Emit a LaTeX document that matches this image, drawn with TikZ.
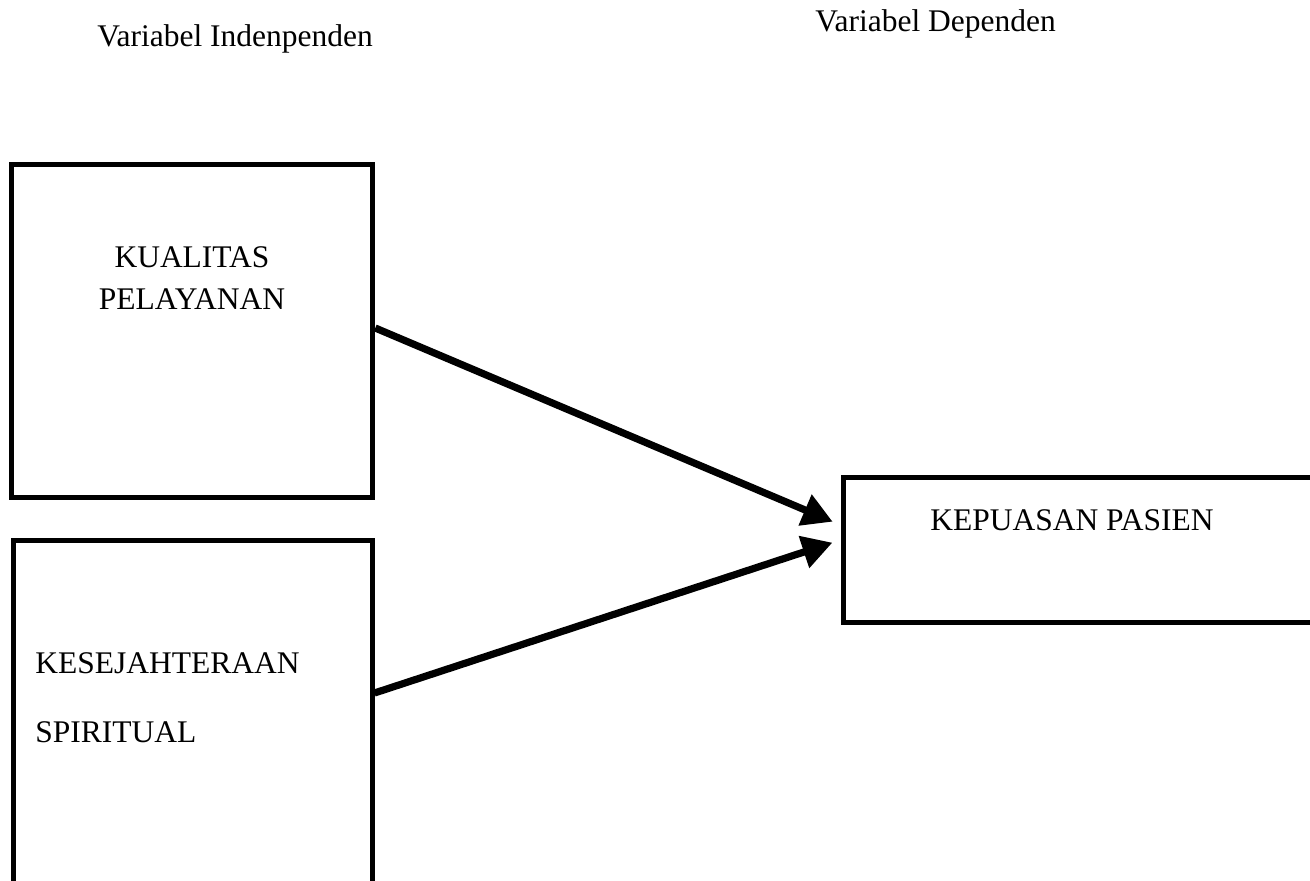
\documentclass[tikz,border=0pt]{standalone}
\usepackage{fontspec}
\setmainfont{Liberation Serif}
\usetikzlibrary{arrows.meta,positioning,calc}
\tikzset{
  varbox/.style={draw,line width=2.5pt,rectangle,inner sep=0pt},
  vartext/.style={font=\fontsize{15.75}{21}\selectfont,inner sep=0pt},
  link/.style={line width=3.6pt,-{Triangle[length=15pt,width=16pt]},shorten >=4.25pt}
}
\begin{document}
\begin{tikzpicture}[x=0.5pt,y=-0.5pt]
        \useasboundingbox (0,0) rectangle (1310,881);
        % headings
        \node[vartext,anchor=base west] (indep) at (97,47) {Variabel Indenpenden};
        \node[vartext,anchor=base west] (dep) at (815,32) {Variabel Dependen};
        % boxes
        \node[varbox,minimum width=180.75pt,minimum height=166pt] (kualitas) at (192,331) {};
        \node[varbox,minimum width=179.5pt,minimum height=171.5pt] (spiritual) at (192.5,711.5) {};
        \node[varbox,minimum width=236.5pt,minimum height=72.5pt] (kepuasan) at (1079.5,549.5) {};
        % labels
        \node[vartext,align=center,anchor=base] (kualitas-txt) at (192,310) {KUALITAS\\PELAYANAN};
        \node[vartext,align=left,anchor=base west] (spiritual-txt) at (35,742) {KESEJAHTERAAN\\[13.5pt]SPIRITUAL};
        \node[vartext,anchor=base] (kepuasan-txt) at (1072,530) {KEPUASAN PASIEN};
        % arrows
        \draw[link] ([yshift=1.5pt]kualitas.east) -- ([yshift=12.25pt]kepuasan.west);
        \draw[link] ([yshift=9.25pt]spiritual.east) -- ([yshift=4.75pt]kepuasan.west);
      \end{tikzpicture}
\end{document}
